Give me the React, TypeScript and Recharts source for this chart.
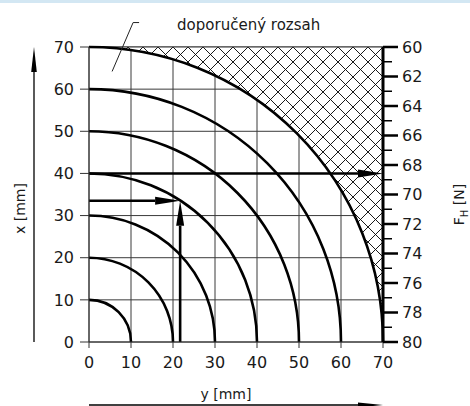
import React from "react";
import {
  ComposedChart,
  Line,
  XAxis,
  YAxis,
  CartesianGrid,
  ReferenceArea,
  ReferenceLine,
} from "recharts";

// radii of the quarter circles (mm)
const radii = [10, 20, 30, 40, 50, 60, 70];
const limitRadius = 70;
const mmTicks = [0, 10, 20, 30, 40, 50, 60, 70];
const forceTicks = [
  60, 61, 62, 63, 64, 65, 66, 67, 68, 69, 70, 71, 72, 73, 74, 75, 76, 77, 78,
  79, 80,
];

// reading example: arrows in data coordinates (y mm, x mm)
const arrows = [
  { x1: 0, y1: 40, x2: 70, y2: 40 },
  { x1: 0, y1: 33.5, x2: 21.7, y2: 33.5 },
  { x1: 21.7, y1: 0, x2: 21.7, y2: 33.5 },
];

// leader line of the "recommended range" note
const leader = [
  { x: 5.5, y: 64.2 },
  { x: 10.5, y: 75.8 },
];
const noteText = "doporučený rozsah";

// arc end points on the y axis, used to feed the scales
const arcEnds = radii.map((r) => ({ y: r, x: 0 }));

const FONT = "'DejaVu Sans', sans-serif";
const INK = "#1a1a1a";

const ArcShape = (props: any) => {
  const { x, y, width, height } = props;
  return (
    <path
      d={`M${x},${y} A${width},${height} 0 0 1 ${x + width},${y + height}`}
      fill="none"
      stroke="#000"
      strokeWidth={2.6}
    />
  );
};

const HatchShape = (props: any) => {
  const { x, y, width, height } = props;
  const d = `M${x},${y} L${x + width},${y} L${x + width},${y + height} A${width},${height} 0 0 0 ${x},${y} Z`;
  return (
    <g>
      <defs>
        <pattern
          id="cross"
          patternUnits="userSpaceOnUse"
          width={15}
          height={15}
          x={x + width}
          y={y}
        >
          <line x1={0} y1={0} x2={15} y2={15} stroke="#000" strokeWidth={0.9} />
          <line x1={15} y1={0} x2={0} y2={15} stroke="#000" strokeWidth={0.9} />
        </pattern>
      </defs>
      <path d={d} fill="#fff" stroke="none" />
      <path d={d} fill="url(#cross)" stroke="#333" strokeWidth={1} />
    </g>
  );
};

const ArrowShape = (props: any) => {
  const { x1, y1, x2, y2 } = props;
  const len = Math.hypot(x2 - x1, y2 - y1) || 1;
  const ux = (x2 - x1) / len;
  const uy = (y2 - y1) / len;
  const hl = 25;
  const hw = 4;
  const bx = x2 - ux * hl;
  const by = y2 - uy * hl;
  return (
    <g>
      <line x1={x1} y1={y1} x2={bx} y2={by} stroke="#000" strokeWidth={2.6} />
      <polygon
        points={`${x2},${y2} ${bx - uy * hw},${by + ux * hw} ${bx + uy * hw},${by - ux * hw}`}
        fill="#000"
      />
    </g>
  );
};

const LeaderShape = (props: any) => {
  const { x1, y1, x2, y2 } = props;
  return (
    <g>
      <polyline
        points={`${x1},${y1} ${x2},${y2} ${x2 + 6},${y2}`}
        fill="none"
        stroke="#222"
        strokeWidth={1}
      />
      <text x={x2 + 44} y={y2 + 7} fontFamily={FONT} fontSize={15} fill={INK}>
        {noteText}
      </text>
    </g>
  );
};

const ForceTick = (props: any) => {
  const { x, y, payload } = props;
  const major = payload.value % 2 === 0;
  return (
    <g>
      <line
        x1={x}
        y1={y}
        x2={x + (major ? 15 : 9)}
        y2={y}
        stroke="#000"
        strokeWidth={major ? 2.5 : 1.5}
      />
      {major && (
        <text
          x={x + 19}
          y={y}
          dy="0.36em"
          fontFamily={FONT}
          fontSize={16}
          fill={INK}
        >
          {payload.value}
        </text>
      )}
    </g>
  );
};

const XLabel = (props: any) => {
  const { x, y, width, height } = props.viewBox;
  const ly = y + height - 1;
  return (
    <g>
      <text
        x={x + width / 2 - 10}
        y={y + 57}
        textAnchor="middle"
        fontFamily={FONT}
        fontSize={14}
        fill={INK}
      >
        y [mm]
      </text>
      <line x1={x} y1={ly} x2={x + width - 24} y2={ly} stroke="#000" strokeWidth={1.3} />
      <polygon
        points={`${x + width},${ly} ${x + width - 25},${ly - 2.5} ${x + width - 25},${ly + 2.5}`}
        fill="#000"
      />
    </g>
  );
};

const YLabel = (props: any) => {
  const { y, height } = props.viewBox;
  const ax = 34;
  return (
    <g>
      <text
        transform={`translate(20,${y + height / 2 + 14}) rotate(-90)`}
        textAnchor="middle"
        dy="0.35em"
        fontFamily={FONT}
        fontSize={14}
        fill={INK}
      >
        x [mm]
      </text>
      <line x1={ax} y1={y + height} x2={ax} y2={y + 24} stroke="#000" strokeWidth={1.3} />
      <polygon
        points={`${ax},${y} ${ax - 2.8},${y + 25} ${ax + 2.8},${y + 25}`}
        fill="#000"
      />
    </g>
  );
};

const FLabel = (props: any) => {
  const { y, height } = props.viewBox;
  return (
    <text
      transform={`translate(459,${y + height / 2 + 10}) rotate(-90)`}
      textAnchor="middle"
      dy="0.35em"
      fontFamily={FONT}
      fontSize={14}
      fill={INK}
    >
      <tspan>F</tspan>
      <tspan fontSize={10} dy="4">
        H
      </tspan>
      <tspan dy="-4"> [N]</tspan>
    </text>
  );
};

export default function App() {
  return (
    <div
      style={{
        position: "absolute",
        left: 0,
        top: 0,
        width: 470,
        height: 406,
        background: "#fff",
        overflow: "hidden",
      }}
    >
      <div
        style={{
          position: "absolute",
          left: 0,
          top: 0,
          width: 470,
          height: 3,
          background: "#d3e7f3",
        }}
      />
      <ComposedChart
        width={470}
        height={406}
        data={arcEnds}
        margin={{ top: 47, right: 0, bottom: 0, left: 0 }}
      >
        <CartesianGrid stroke="#3a3a3a" strokeWidth={1} />
        <XAxis
          type="number"
          dataKey="y"
          domain={[0, 70]}
          ticks={mmTicks}
          interval={0}
          height={64}
          tickSize={6}
          tickMargin={9}
          axisLine={{ stroke: "#333" }}
          tickLine={{ stroke: "#333" }}
          tick={{ fontFamily: FONT, fontSize: 16, fill: INK }}
          label={{ content: (p: any) => <XLabel {...p} /> }}
        />
        <YAxis
          type="number"
          domain={[0, 70]}
          ticks={mmTicks}
          interval={0}
          width={89}
          tickSize={9}
          tickMargin={6}
          axisLine={{ stroke: "#333" }}
          tickLine={{ stroke: "#333" }}
          tick={{ fontFamily: FONT, fontSize: 16, fill: INK }}
          label={{ content: (p: any) => <YLabel {...p} /> }}
        />
        <YAxis
          yAxisId="force"
          orientation="right"
          type="number"
          domain={[60, 80]}
          allowDataOverflow
          reversed
          ticks={forceTicks}
          interval={0}
          width={87}
          tickSize={0}
          tickMargin={0}
          tickLine={false}
          axisLine={{ stroke: "#000", strokeWidth: 3 }}
          tick={<ForceTick />}
          label={{ content: (p: any) => <FLabel {...p} /> }}
        />
        <ReferenceArea
          x1={0}
          x2={limitRadius}
          y1={0}
          y2={limitRadius}
          shape={<HatchShape />}
        />
        {radii.map((r) => (
          <ReferenceArea
            key={r}
            x1={0}
            x2={r}
            y1={0}
            y2={r}
            shape={<ArcShape />}
          />
        ))}
        {arrows.map((a, i) => (
          <ReferenceLine
            key={i}
            segment={[
              { x: a.x1, y: a.y1 },
              { x: a.x2, y: a.y2 },
            ]}
            shape={<ArrowShape />}
          />
        ))}
        <ReferenceLine
          segment={leader}
          ifOverflow="visible"
          shape={<LeaderShape />}
        />
        <Line
          dataKey="x"
          stroke="none"
          dot={false}
          activeDot={false}
          isAnimationActive={false}
        />
        <Line
          yAxisId="force"
          dataKey="f"
          stroke="none"
          dot={false}
          activeDot={false}
          isAnimationActive={false}
        />
      </ComposedChart>
    </div>
  );
}
